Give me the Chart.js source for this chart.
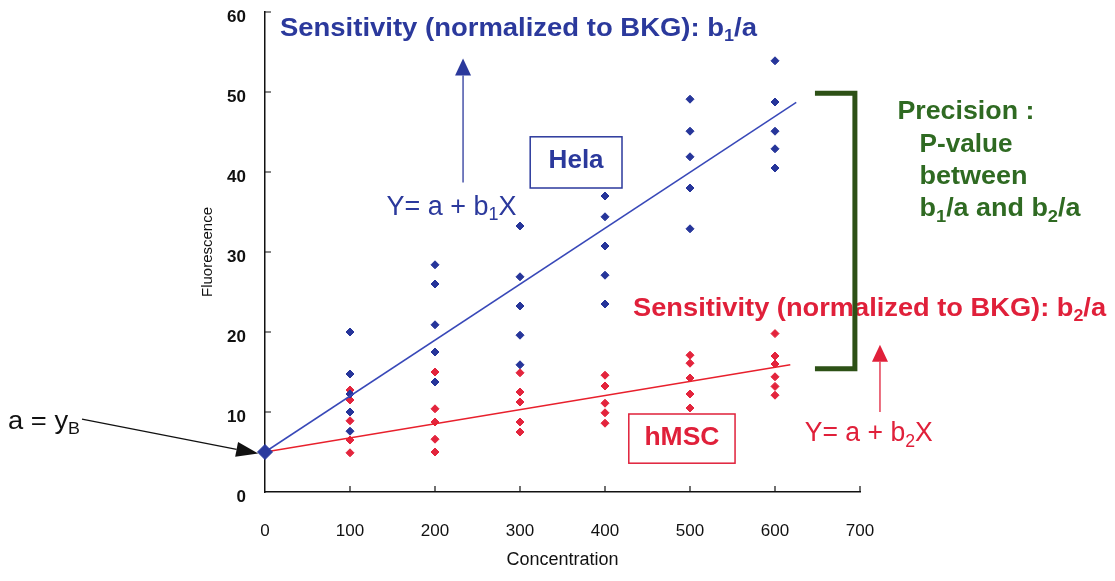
<!DOCTYPE html>
<html>
<head>
<meta charset="utf-8">
<script src="https://cdn.jsdelivr.net/npm/chart.js@4.4.1/dist/chart.umd.min.js"></script>
<style>
  html, body { margin: 0; background: #fff; }
</style>
</head>
<body>
<canvas id="myChart" width="1115" height="581"></canvas>
<script>
// concentrations and replicate readings (Fluorescence) for each cell line
var concentrations = [100, 200, 300, 400, 500, 600];
var helaReadings = [
    [20, 14.75, 12.25, 10, 7.6],
    [28.4, 26, 20.9, 17.5, 13.75],
    [33.25, 26.9, 23.25, 19.6, 15.9],
    [37, 34.4, 30.75, 27.1, 23.5],
    [49.1, 45.1, 41.9, 38, 32.9],
    [53.9, 48.75, 45.1, 42.9, 40.5]
];
var hmscReadings = [
    [12.75, 11.5, 8.9, 6.5, 4.9],
    [15, 10.4, 8.75, 6.6, 5.0],
    [14.9, 12.5, 11.25, 8.75, 7.5],
    [14.6, 13.25, 11.1, 9.9, 8.6],
    [17.1, 16.1, 14.25, 12.25, 10.5],
    [19.8, 17.0, 16.0, 14.4, 13.2, 12.1]
];

// background (blank) reading at zero concentration
var blankX = [0];
var blankY = [5];

// end points of the two fitted lines Y = a + bX
var helaFitX = [0, 625];
var helaFitY = [5, 48.7];
var hmscFitX = [0, 618];
var hmscFitY = [5, 15.9];

var xTicks = [0, 100, 200, 300, 400, 500, 600, 700];
var yTicks = [0, 10, 20, 30, 40, 50, 60];

var BLUE = "#2b399c";
var LINE_BLUE = "#3848b8";
var RED = "#e0203a";
var GREEN = "#2f6a22";
var FONT = '"Liberation Sans", Arial, sans-serif';

function toPoints(xs, ys) {
    var pts = [];
    xs.forEach((x, i) => pts.push({ x: x, y: ys[i] }));
    return pts;
}

function replicatePoints(readings) {
    var pts = [];
    concentrations.forEach((c, i) => {
        readings[i].forEach(v => pts.push({ x: c, y: v }));
    });
    return pts;
}

// text with "_" prefixed pieces drawn as subscripts; the slide lettering
// is a touch wider than the font, so each line is fitted to a width
function drawRich(ctx, segs, x, y, size, bold, color, width, align) {
    var pieces = segs.map(s => {
        var sub = s.charAt(0) === "_";
        var fs = sub ? Math.round(size * 0.66) : size;
        return { t: sub ? s.slice(1) : s, sub: sub, font: (bold ? "bold " : "") + fs + "px " + FONT };
    });
    var total = 0;
    pieces.forEach(p => {
        ctx.font = p.font;
        p.w = ctx.measureText(p.t).width;
        total += p.w;
    });
    var sx = width ? width / total : 1;
    ctx.save();
    ctx.translate(align === "center" ? x - total * sx / 2 : x, y);
    ctx.scale(sx, 1);
    ctx.fillStyle = color;
    ctx.textBaseline = "middle";
    ctx.textAlign = "left";
    var cx = 0;
    pieces.forEach(p => {
        ctx.font = p.font;
        ctx.fillText(p.t, cx, p.sub ? size * 0.3 : 0);
        cx += p.w;
    });
    ctx.restore();
}

function drawArrow(ctx, x1, y1, x2, y2, headLen, headW, color, lw) {
    var ang = Math.atan2(y2 - y1, x2 - x1);
    var bx = x2 - headLen * Math.cos(ang);
    var by = y2 - headLen * Math.sin(ang);
    ctx.strokeStyle = color;
    ctx.fillStyle = color;
    ctx.lineWidth = lw;
    ctx.beginPath();
    ctx.moveTo(x1, y1);
    ctx.lineTo(bx, by);
    ctx.stroke();
    ctx.beginPath();
    ctx.moveTo(x2, y2);
    ctx.lineTo(bx + headW / 2 * Math.sin(ang), by - headW / 2 * Math.cos(ang));
    ctx.lineTo(bx - headW / 2 * Math.sin(ang), by + headW / 2 * Math.cos(ang));
    ctx.closePath();
    ctx.fill();
}

// inside tick marks plus the text/arrow annotations, placed in data units
var annotations = {
    id: "annotations",
    afterDraw(chart) {
        var ctx = chart.ctx;
        var xs = chart.scales.x;
        var ys = chart.scales.y;
        var X = v => xs.getPixelForValue(v);
        var Y = v => ys.getPixelForValue(v);
        ctx.save();

        // ticks pointing into the plot
        ctx.strokeStyle = "#111";
        ctx.lineWidth = 1.2;
        ctx.beginPath();
        xTicks.slice(1).forEach(t => {
            ctx.moveTo(X(t), Y(0));
            ctx.lineTo(X(t), Y(0) - 6);
        });
        yTicks.slice(1).forEach(t => {
            ctx.moveTo(X(0), Y(t));
            ctx.lineTo(X(0) + 6, Y(t));
        });
        ctx.stroke();

        // Hela annotations
        drawRich(ctx, ["Sensitivity (normalized to BKG): b", "_1", "/a"], X(17.6), Y(57.9), 26, true, BLUE, 477);
        drawArrow(ctx, X(233), Y(38.7), X(233), Y(54.2), 17, 16, BLUE, 1.3);
        drawRich(ctx, ["Y= a + b", "_1", "X"], X(143), Y(35.6), 27, false, BLUE, 130);
        ctx.strokeStyle = BLUE;
        ctx.lineWidth = 1.5;
        ctx.strokeRect(X(312), Y(44.4), X(420) - X(312), Y(38) - Y(44.4));
        drawRich(ctx, ["Hela"], X(366), Y(41.3), 25, true, BLUE, 55, "center");

        // hMSC annotations
        ctx.strokeStyle = RED;
        ctx.strokeRect(X(428), Y(9.75), X(553) - X(428), Y(3.6) - Y(9.75));
        drawRich(ctx, ["hMSC"], X(490.5), Y(6.7), 25, true, RED, 75, "center");
        drawRich(ctx, ["Sensitivity (normalized to BKG): b", "_2", "/a"], X(433), Y(22.9), 26, true, RED, 473);
        drawArrow(ctx, X(723.5), Y(10), X(723.5), Y(18.4), 17, 16, RED, 1.3);
        drawRich(ctx, ["Y= a + b", "_2", "X"], X(635), Y(7.3), 27, false, RED, 128);

        // blank reading label
        drawRich(ctx, ["a = y", "_B"], 8, Y(8.8), 26, false, "#111", 72);
        drawArrow(ctx, 82, Y(9.1), X(-8), Y(4.8), 22, 15, "#111", 1.3);

        // bracket comparing the two slopes
        ctx.strokeStyle = "#2d5116";
        ctx.lineWidth = 5;
        ctx.lineJoin = "miter";
        ctx.beginPath();
        ctx.moveTo(X(647), Y(49.85));
        ctx.lineTo(X(694), Y(49.85));
        ctx.lineTo(X(694), Y(15.4));
        ctx.lineTo(X(647), Y(15.4));
        ctx.stroke();

        drawRich(ctx, ["Precision :"], X(744), Y(47.5), 25, true, GREEN, 137);
        drawRich(ctx, ["P-value"], X(770), Y(43.4), 25, true, GREEN, 93);
        drawRich(ctx, ["between"], X(770), Y(39.3), 25, true, GREEN, 108);
        drawRich(ctx, ["b", "_1", "/a and b", "_2", "/a"], X(770), Y(35.3), 25, true, GREEN, 161);

        ctx.restore();
    }
};

var curve = document.querySelector("#myChart").getContext("2d");

var myChart = new Chart(curve, {
    type: "scatter",
    data: {
        datasets: [{
            label: "Blank",
            data: toPoints(blankX, blankY),
            backgroundColor: "#2a3a9e",
            borderColor: "#2a3a9e",
            pointStyle: "rectRot",
            pointRadius: 7.5,
            clip: false,
        }, {
            label: "Hela fit",
            type: "line",
            data: toPoints(helaFitX, helaFitY),
            borderColor: LINE_BLUE,
            borderWidth: 1.5,
            pointRadius: 0,
            fill: false,
        }, {
            label: "hMSC fit",
            type: "line",
            data: toPoints(hmscFitX, hmscFitY),
            borderColor: "#e8202c",
            borderWidth: 1.5,
            pointRadius: 0,
            fill: false,
        }, {
            label: "Hela",
            data: replicatePoints(helaReadings),
            backgroundColor: "#26359a",
            borderColor: "#26359a",
            pointStyle: "rectRot",
            pointRadius: 4,
        }, {
            label: "hMSC",
            data: replicatePoints(hmscReadings),
            backgroundColor: "#e3243c",
            borderColor: "#e3243c",
            pointStyle: "rectRot",
            pointRadius: 4,
        }],
    },
    options: {
        responsive: false,
        animation: false,
        devicePixelRatio: 1,
        layout: { padding: { top: 12, right: 255, left: 0, bottom: 0 } },
        plugins: {
            legend: { display: false },
            tooltip: { enabled: false },
        },
        scales: {
            x: {
                type: "linear",
                min: 0,
                max: 700,
                afterFit: s => {
                    s.height = 89;
                    s.paddingLeft = 0;
                    s.paddingRight = 0;
                },
                afterBuildTicks: s => { s.ticks = xTicks.map(v => ({ value: v })); },
                ticks: {
                    padding: 29,
                    color: "#111",
                    font: { family: FONT, size: 17 },
                },
                grid: { drawOnChartArea: false, drawTicks: false },
                border: { color: "#111", width: 1.5 },
                title: {
                    display: true,
                    text: "Concentration",
                    color: "#111",
                    font: { family: FONT, size: 18 },
                    padding: { bottom: 10 },
                },
            },
            y: {
                min: 0,
                max: 60,
                afterFit: s => {
                    s.width = 265;
                    s.paddingTop = 0;
                    s.paddingBottom = 0;
                },
                afterBuildTicks: s => { s.ticks = yTicks.map(v => ({ value: v })); },
                ticks: {
                    padding: 19,
                    labelOffset: 5,
                    color: "#111",
                    font: { family: FONT, size: 17, weight: "bold" },
                },
                grid: { drawOnChartArea: false, drawTicks: false },
                border: { color: "#111", width: 1.5 },
                title: {
                    display: true,
                    text: "Fluorescence",
                    color: "#111",
                    font: { family: FONT, size: 15 },
                    padding: { top: 199 },
                },
            },
        },
    },
    plugins: [annotations],
});
</script>
</body>
</html>
